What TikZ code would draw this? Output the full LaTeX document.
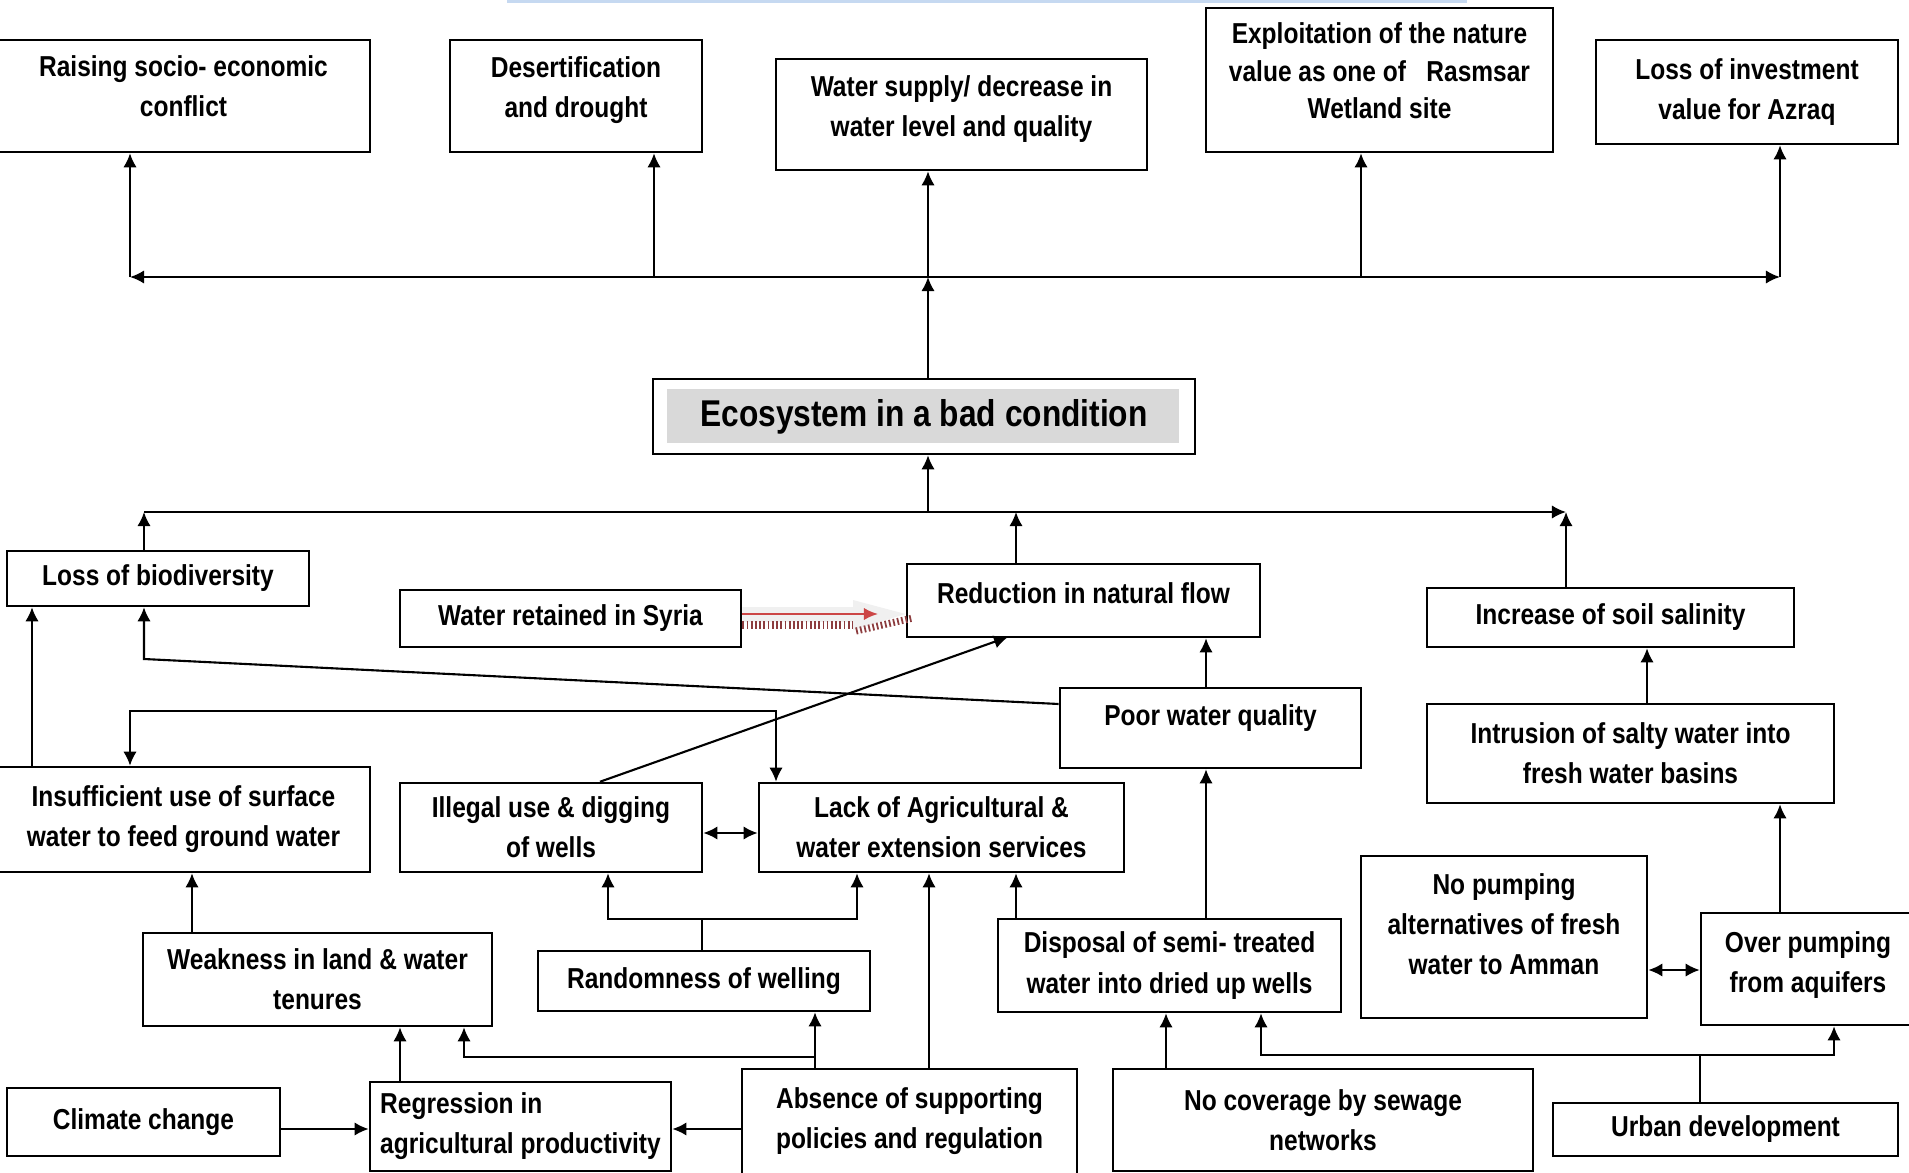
\documentclass[tikz,border=0pt]{standalone}
\usepackage{fontspec}
\setmainfont{Liberation Sans}[FakeStretch=0.85]
\usetikzlibrary{arrows.meta}
\definecolor{ecogray}{RGB}{217,217,217}
\definecolor{barblue}{RGB}{198,217,241}
\definecolor{syriared}{RGB}{204,70,70}
\definecolor{hatchred}{RGB}{140,60,62}
\tikzstyle{boxtext}=[align=center, font=\fontsize{8.2}{11.4}\selectfont\bfseries]
\tikzstyle{box}=[draw, line width=0.7pt, inner sep=2pt, boxtext]
\tikzstyle{arr}=[line width=0.6pt, -{Latex[length=4pt,width=3.8pt]}]
\tikzstyle{arrr}=[line width=0.6pt, {Latex[length=4pt,width=3.8pt]}-{Latex[length=4pt,width=3.8pt]}]
\tikzstyle{link}=[line width=0.6pt]

\begin{document}
\begin{tikzpicture}[x=0.01cm, y=-0.01cm]
    \useasboundingbox (0,0) rectangle (1909,1173);
    \fill[barblue] (507,0) rectangle (1467,3);
    % consequences
    \node[box, minimum width=3.73cm, minimum height=1.12cm, label={[boxtext, yshift=2.8pt]center:{Raising socio- economic\\conflict}}] (raise) at (183.5,96) {};
    \node[box, minimum width=2.52cm, minimum height=1.12cm, label={[boxtext, yshift=1.6pt]center:{Desertification\\and drought}}] (desert) at (576,96) {};
    \node[box, minimum width=3.71cm, minimum height=1.11cm, label={[boxtext, yshift=1.6pt]center:{Water supply/ decrease in\\water level and quality}}] (supply) at (961.5,114.5) {};
    \node[box, minimum width=3.47cm, minimum height=1.44cm, label={[boxtext, font=\fontsize{8.2}{10.6}\selectfont\bfseries, yshift=2.6pt]center:{Exploitation of the nature\\value as one of \ \ Rasmsar\\Wetland site}}] (exploit) at (1379.5,80) {};
    \node[box, minimum width=3.02cm, minimum height=1.04cm] (invest) at (1747,92) {Loss of investment\\value for Azraq};
    % core problem
    \fill[ecogray] (667,389) rectangle (1179,443);
    \node[box, minimum width=5.42cm, minimum height=0.75cm, font=\fontsize{10.6}{13}\selectfont\bfseries] (eco) at (924,416.5) {Ecosystem in a bad condition};
    % causes
    \node[box, minimum width=3.02cm, minimum height=0.55cm] (biod) at (158,578.5) {Loss of biodiversity};
    \node[box, minimum width=3.41cm, minimum height=0.57cm] (syria) at (570.5,618.5) {Water retained in Syria};
    \node[box, minimum width=3.53cm, minimum height=0.73cm, label={[boxtext, yshift=2.1pt]center:{Reduction in natural flow}}] (reduc) at (1083.5,600.5) {};
    \node[box, minimum width=3.67cm, minimum height=0.59cm] (salin) at (1610.5,617.5) {Increase of soil salinity};
    \node[box, minimum width=3.01cm, minimum height=0.80cm, label={[boxtext, yshift=2.8pt]center:{Poor water quality}}] (poor) at (1210.5,728) {};
    \node[box, minimum width=4.07cm, minimum height=0.99cm] (intru) at (1630.5,753.5) {Intrusion of salty water into\\fresh water basins};
    \node[box, minimum width=3.73cm, minimum height=1.05cm] (insuf) at (183.5,819.5) {Insufficient use of surface\\water to feed ground water};
    \node[box, minimum width=3.02cm, minimum height=0.89cm] (illeg) at (551,827.5) {Illegal use \& digging\\of wells};
    \node[box, minimum width=3.65cm, minimum height=0.89cm] (lack) at (941.5,827.5) {Lack of Agricultural \&\\water extension services};
    \node[box, minimum width=2.86cm, minimum height=1.62cm, label={[boxtext, yshift=3.6pt]center:{No pumping\\alternatives of fresh\\water to Amman}}] (nopump) at (1504,937) {};
    \node[box, minimum width=3.49cm, minimum height=0.93cm] (weak) at (317.5,979.5) {Weakness in land \& water\\tenures};
    \node[box, minimum width=3.32cm, minimum height=0.60cm] (rand) at (704,981) {Randomness of welling};
    \node[box, minimum width=3.43cm, minimum height=0.93cm] (disp) at (1169.5,965.5) {Disposal of semi- treated\\water into dried up wells};
    \node[box, minimum width=2.14cm, minimum height=1.12cm, label={[boxtext, yshift=1.2pt]center:{Over pumping\\from aquifers}}] (overp) at (1808,969) {};
    \node[box, minimum width=2.73cm, minimum height=0.68cm] (climate) at (143.5,1122) {Climate change};
    \node[box, minimum width=3.01cm, minimum height=0.89cm, align=left] (regr) at (520.5,1126.5) {Regression in\\agricultural productivity};
    \node[box, minimum width=3.35cm, minimum height=1.11cm, label={[boxtext, yshift=1pt]center:{Absence of supporting\\policies and regulation}}] (absen) at (909.5,1124.5) {};
    \node[box, minimum width=4.20cm, minimum height=1.02cm] (nocov) at (1323,1120) {No coverage by sewage\\networks};
    \node[box, minimum width=3.45cm, minimum height=0.53cm] (urban) at (1725.5,1129.5) {Urban development};
    % upper fan
    \draw[arr] (928,0 |- eco.north) -- (928,277);
    \draw[arrr] (130,277) -- (1780,277);
    \draw[arr] (130,277) -- (130,0 |- raise.south);
    \draw[arr] (654,277) -- (654,0 |- desert.south);
    \draw[arr] (928,277) -- (928,0 |- supply.south);
    \draw[arr] (1361,277) -- (1361,0 |- exploit.south);
    \draw[arr] (1780,277) -- (1780,0 |- invest.south);
    % lower bus
    \draw[arr] (144,512) -- (1566,512);
    \draw[arr] (928,512) -- (928,0 |- eco.south);
    \draw[arr] (144,0 |- biod.north) -- (144,512);
    \draw[arr] (1016,0 |- reduc.north) -- (1016,512);
    \draw[arr] (1566,0 |- salin.north) -- (1566,512);
    % syria arrow
    \fill[gray!12] (syria.east |- 0,607) -- (853,607) -- (853,600) -- (reduc.west |- 0,614) -- (853,630) -- (853,622) -- (syria.east |- 0,622) -- cycle;
    \draw[line width=0.6pt, syriared, -{Latex[length=4pt,width=3.5pt]}] (syria.east |- 0,614) -- (878,614);
    \draw[hatchred, line width=2.2pt, dash pattern=on 0.5pt off 0.7pt] (syria.east |- 0,625) -- (853,625);
    \draw[hatchred, line width=2pt, dash pattern=on 0.5pt off 0.7pt] (856,631) -- (913,618);
    % cause links
    \draw[arr] (1206,0 |- poor.north) -- (1206,0 |- reduc.south);
    \draw[arr] (poor.west |- 0,704) -- (144,659) -- (144,0 |- biod.south);
    \draw[arr] (600,0 |- illeg.north) -- (1008,637);
    \draw[arr] (32,0 |- insuf.north) -- (32,0 |- biod.south);
    \draw[arrr] (130,0 |- insuf.north) -- (130,711) -- (776,711) -- (776,0 |- lack.north);
    \draw[arrr] (illeg.east |- 0,833) -- (lack.west |- 0,833);
    \draw[arr] (192,0 |- weak.north) -- (192,0 |- insuf.south);
    \draw[link] (702,0 |- rand.north) -- (702,919);
    \draw[arr] (702,919) -- (608,919) -- (608,0 |- illeg.south);
    \draw[arr] (702,919) -- (857,919) -- (857,0 |- lack.south);
    \draw[arr] (929,0 |- absen.north) -- (929,0 |- lack.south);
    \draw[arr] (absen.west |- 0,1129) -- (regr.east |- 0,1129);
    \draw[arr] (climate.east |- 0,1129) -- (regr.west |- 0,1129);
    \draw[arr] (400,0 |- regr.north) -- (400,0 |- weak.south);
    \draw[arr] (815,0 |- absen.north) -- (815,0 |- rand.south);
    \draw[arr] (815,1057) -- (464,1057) -- (464,0 |- weak.south);
    \draw[arr] (1016,0 |- disp.north) -- (1016,0 |- lack.south);
    \draw[arr] (1206,0 |- disp.north) -- (1206,0 |- poor.south);
    \draw[arr] (1166,0 |- nocov.north) -- (1166,0 |- disp.south);
    \draw[link] (1700,0 |- urban.north) -- (1700,1055);
    \draw[arr] (1700,1055) -- (1261,1055) -- (1261,0 |- disp.south);
    \draw[arr] (1700,1055) -- (1834,1055) -- (1834,0 |- overp.south);
    \draw[arrr] (nopump.east |- 0,970) -- (overp.west |- 0,970);
    \draw[arr] (1780,0 |- overp.north) -- (1780,0 |- intru.south);
    \draw[arr] (1647,0 |- intru.north) -- (1647,0 |- salin.south);
\end{tikzpicture}
\end{document}
